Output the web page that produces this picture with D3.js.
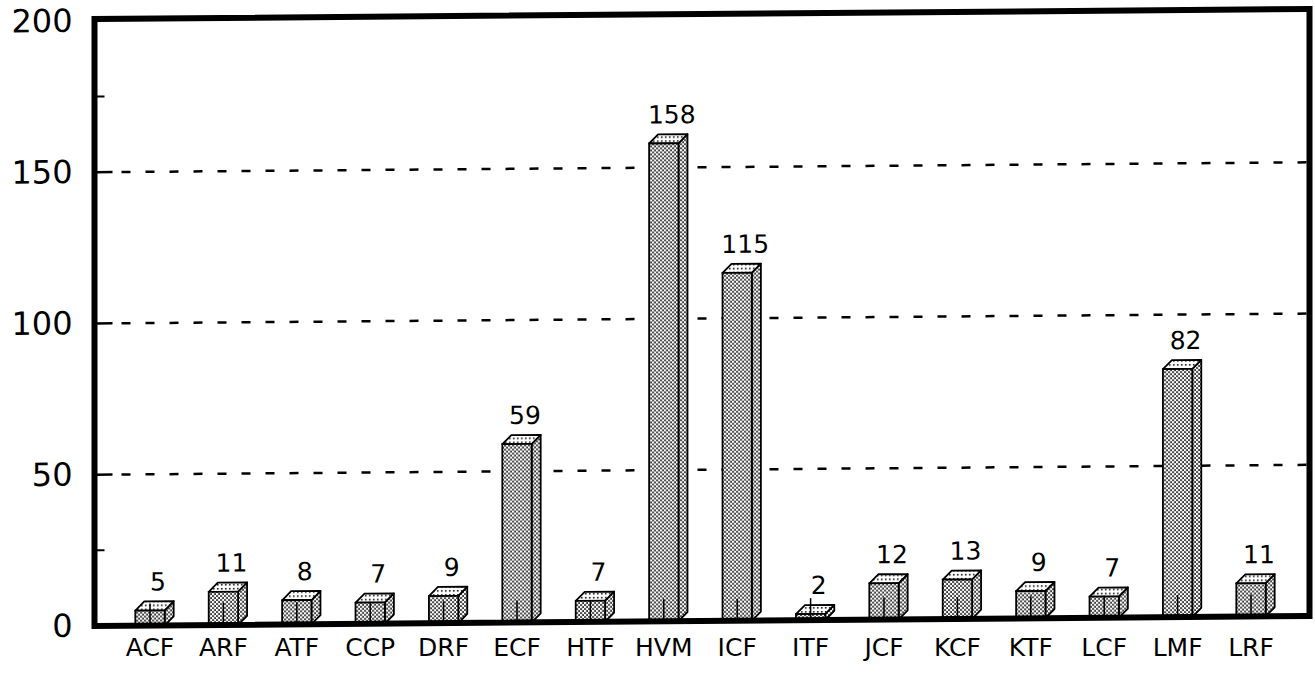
<!DOCTYPE html>
<html>
<head>
<meta charset="utf-8">
<script src="https://cdn.jsdelivr.net/npm/d3@7"></script>
<style>
  html, body { margin: 0; padding: 0; background: #fff; }
  svg { display: block; }
  text { font-family: "DejaVu Sans", sans-serif; fill: #000; }
</style>
</head>
<body>
<svg id="chart" width="1315" height="673"></svg>
<script>
const categories = ["ACF","ARF","ATF","CCP","DRF","ECF","HTF","HVM","ICF","ITF","JCF","KCF","KTF","LCF","LMF","LRF"];
const values = [5, 11, 8, 7, 9, 59, 7, 158, 115, 2, 12, 13, 9, 7, 82, 11];
const yTicks = [0, 50, 100, 150, 200];
const gridValues = [50, 100, 150];
const minorTicks = [25, 175];

(function () {
const svg = d3.select("#chart");
svg.append("rect").attr("width", 1315).attr("height", 673).attr("fill", "#fff");

const defs = svg.append("defs");
const pf = defs.append("pattern").attr("id", "dotsFront").attr("patternUnits", "userSpaceOnUse")
  .attr("width", 4).attr("height", 4);
pf.append("rect").attr("width", 4).attr("height", 4).attr("fill", "#fff");
pf.append("rect").attr("x", 0.2).attr("y", 0.2).attr("width", 1.7).attr("height", 1.7).attr("fill", "#000");
pf.append("rect").attr("x", 2.2).attr("y", 2.2).attr("width", 1.7).attr("height", 1.7).attr("fill", "#000");
const pt = defs.append("pattern").attr("id", "dotsTop").attr("patternUnits", "userSpaceOnUse")
  .attr("width", 4).attr("height", 4);
pt.append("rect").attr("width", 4).attr("height", 4).attr("fill", "#fff");
pt.append("rect").attr("x", 1).attr("y", 1).attr("width", 1.6).attr("height", 1.6).attr("fill", "#000");

const pLeft = 94.5, pRight = 1309.5, pTop = 19, pBottom = 626;

const x = d3.scaleBand().domain(categories).range([113.3, 1287.7]).paddingInner(0.6).paddingOuter(0.3);
const y = d3.scaleLinear().domain([0, 200]).range([pBottom, 21]);

// slightly tilted plot (scanned original)
const g = svg.append("g").attr("transform", `translate(${pLeft},0) skewY(-0.47) translate(${-pLeft},0)`);

// gridlines
gridValues.forEach(v => {
  g.append("line").attr("x1", pLeft + 2).attr("x2", pLeft + 18).attr("y1", y(v)).attr("y2", y(v))
    .attr("stroke", "#000").attr("stroke-width", 2.5);
  g.append("line").attr("x1", pLeft + 27).attr("x2", pRight - 3).attr("y1", y(v)).attr("y2", y(v))
    .attr("stroke", "#000").attr("stroke-width", 2.5).attr("stroke-dasharray", "9,15");
});
minorTicks.forEach(v => {
  g.append("line").attr("x1", pLeft + 2).attr("x2", pLeft + 10).attr("y1", y(v)).attr("y2", y(v))
    .attr("stroke", "#000").attr("stroke-width", 2);
});

// bars
const d = 9;
const w = x.bandwidth();
const bars = g.append("g").selectAll("g.bar").data(categories.map((c, i) => ({c, v: values[i]})))
  .join("g").attr("class", "bar");
bars.each(function(p) {
  const sel = d3.select(this);
  const x0 = x(p.c), yt = y(p.v), yb = y(0);
  sel.append("polygon")
    .attr("points", [[x0 + w, yb], [x0 + w, yt], [x0 + w + d, yt - d], [x0 + w + d, yb - d]].map(q => q.join(",")).join(" "))
    .attr("fill", "url(#dotsFront)").attr("stroke", "#000").attr("stroke-width", 1.8).attr("stroke-linejoin", "round");
  sel.append("polygon")
    .attr("points", [[x0, yt], [x0 + d, yt - d], [x0 + w + d, yt - d], [x0 + w, yt]].map(q => q.join(",")).join(" "))
    .attr("fill", "url(#dotsTop)").attr("stroke", "#000").attr("stroke-width", 1.8).attr("stroke-linejoin", "round");
  sel.append("rect").attr("x", x0).attr("y", yt).attr("width", w).attr("height", yb - yt)
    .attr("fill", "url(#dotsFront)").attr("stroke", "#000").attr("stroke-width", 1.8);
  sel.append("line").attr("x1", x0 + w / 2).attr("x2", x0 + w / 2).attr("y1", yb).attr("y2", yb - 22)
    .attr("stroke", "#000").attr("stroke-width", 1.5);
  sel.append("text").attr("x", x0 + w / 2 + 8).attr("y", yt - 20)
    .attr("text-anchor", "middle").attr("font-size", 25).text(p.v);
});

// frame
g.append("rect").attr("x", pLeft).attr("y", pTop).attr("width", pRight - pLeft).attr("height", pBottom - pTop)
  .attr("fill", "none").attr("stroke", "#000").attr("stroke-width", 6);

// y axis labels
const yAxis = g.append("g").attr("transform", `translate(${pLeft},0)`)
  .call(d3.axisLeft(y).tickValues(yTicks).tickSize(0).tickPadding(22).tickFormat(d3.format("d")));
yAxis.select(".domain").remove();
yAxis.selectAll("text").attr("font-size", 32).attr("font-family", "DejaVu Sans, sans-serif").attr("fill", "#000");

// x axis labels (not tilted)
const xAxis = svg.append("g").attr("transform", `translate(0,${pBottom})`)
  .call(d3.axisBottom(x).tickSize(0).tickPadding(12));
xAxis.select(".domain").remove();
xAxis.selectAll("text").attr("font-size", 25).attr("font-family", "DejaVu Sans, sans-serif").attr("fill", "#000");
})();
</script>
</body>
</html>
